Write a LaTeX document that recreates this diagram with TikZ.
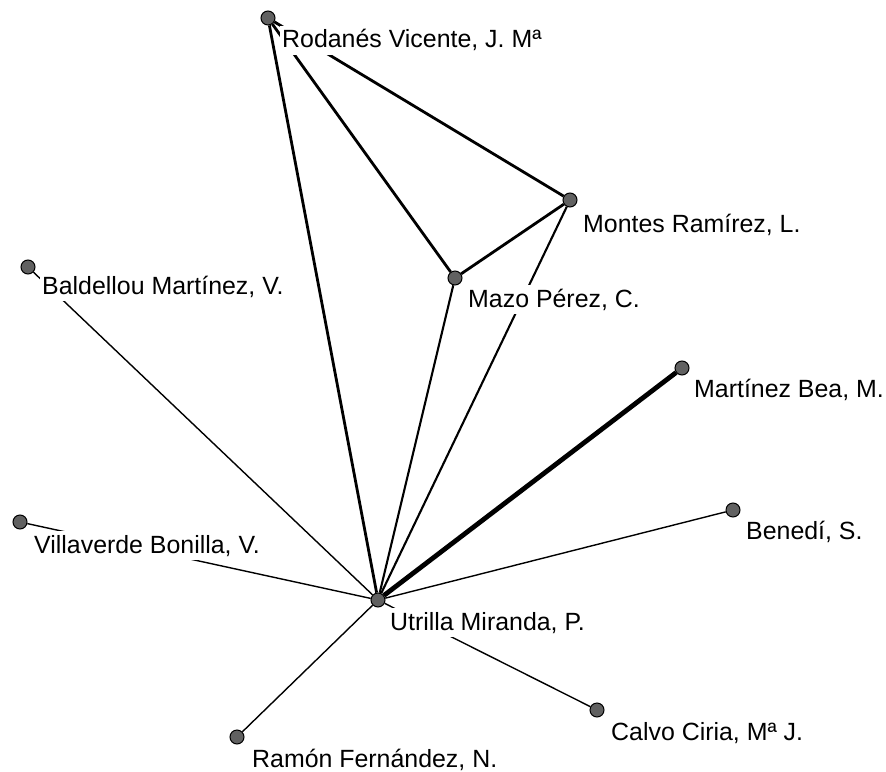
\documentclass[tikz,border=0pt]{standalone}
\usepackage{fontspec}
\setmainfont{Liberation Sans}
\tikzset{
  actor/.style={circle,draw=black,fill=black!62,minimum size=14bp,inner sep=0pt,line width=1bp},
  authorlabel/.style={anchor=base west,fill=white,inner xsep=2bp,inner ysep=3.5bp,font=\fontsize{25}{30}\selectfont},
  tiethin/.style={line width=1.4bp},
  tiemid/.style={line width=2.1bp},
  tiestrong/.style={line width=2.8bp},
  tiemax/.style={line width=4.8bp}
}
\begin{document}
\begin{tikzpicture}[x=1bp,y=-1bp]
  \useasboundingbox[fill=white] (0,0) rectangle (886,772);
  \node[actor] (rodanes) at (268,18) {};
  \node[actor] (montes) at (570,200) {};
  \node[actor] (mazo) at (455,278) {};
  \node[actor] (baldellou) at (28,267) {};
  \node[actor] (martinez) at (682,368) {};
  \node[actor] (benedi) at (733,510) {};
  \node[actor] (villaverde) at (20,522) {};
  \node[actor] (utrilla) at (378,600) {};
  \node[actor] (calvo) at (597,710) {};
  \node[actor] (ramon) at (237,737) {};
  \draw[tiestrong] (rodanes)--(utrilla);
  \draw[tiestrong] (rodanes)--(mazo);
  \draw[tiestrong] (rodanes)--(montes);
  \draw[tiestrong] (montes)--(mazo);
  \draw[tiemid] (mazo)--(utrilla);
  \draw[tiemid] (montes)--(utrilla);
  \draw[tiemax] (martinez)--(utrilla);
  \draw[tiethin] (benedi)--(utrilla);
  \draw[tiethin] (baldellou)--(utrilla);
  \draw[tiethin] (villaverde)--(utrilla);
  \draw[tiethin] (calvo)--(utrilla);
  \draw[tiethin] (ramon)--(utrilla);
  \node[authorlabel] (rodanesL) at ([shift={(12,30)}]rodanes.center) {Rodanés Vicente, J. Mª};
  \node[authorlabel] (montesL) at ([shift={(11,32)}]montes.center) {Montes Ramírez, L.};
  \node[authorlabel] (mazoL) at ([shift={(11,29)}]mazo.center) {Mazo Pérez, C.};
  \node[authorlabel] (baldellouL) at ([shift={(12,27)}]baldellou.center) {Baldellou Martínez, V.};
  \node[authorlabel] (martinezL) at ([shift={(10,29)}]martinez.center) {Martínez Bea, M.};
  \node[authorlabel] (benediL) at ([shift={(11,29)}]benedi.center) {Benedí, S.};
  \node[authorlabel] (villaverdeL) at ([shift={(12,31)}]villaverde.center) {Villaverde Bonilla, V.};
  \node[authorlabel] (utrillaL) at ([shift={(10,30)}]utrilla.center) {Utrilla Miranda, P.};
  \node[authorlabel] (calvoL) at ([shift={(12,30)}]calvo.center) {Calvo Ciria, Mª J.};
  \node[authorlabel] (ramonL) at ([shift={(13,30)}]ramon.center) {Ramón Fernández, N.};
\end{tikzpicture}
\end{document}
